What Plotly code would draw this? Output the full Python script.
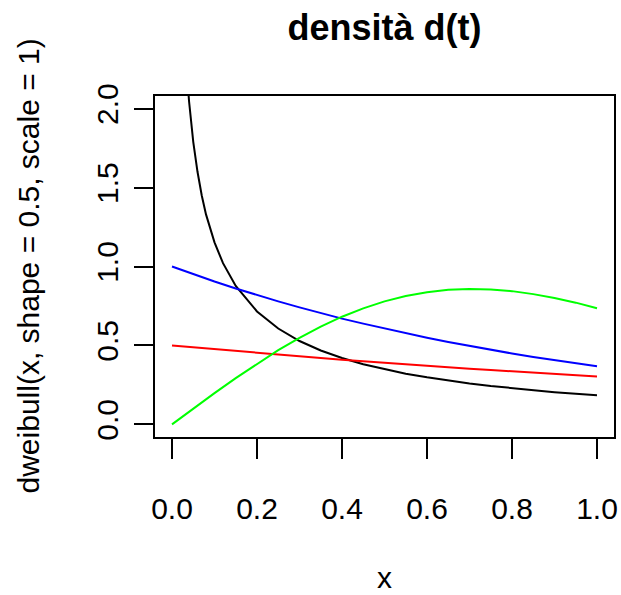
import plotly.graph_objects as go

# values (x grid and densities)
x = [0.0, 0.05, 0.1, 0.15, 0.2, 0.25, 0.3, 0.35, 0.4, 0.45, 0.5,
     0.55, 0.6, 0.65, 0.7, 0.75, 0.8, 0.85, 0.9, 0.95, 1.0]

# black curve needs a finer grid near 0, it runs off the top
x_black = [0.03, 0.04, 0.05, 0.06, 0.07, 0.08, 0.1, 0.12, 0.15, 0.2, 0.25, 0.3,
           0.35, 0.4, 0.45, 0.5, 0.55, 0.6, 0.65, 0.7, 0.75, 0.8, 0.85,
           0.9, 0.95, 1.0]
y_black = [2.43, 2.05, 1.79, 1.60, 1.45, 1.33, 1.153, 1.021, 0.877, 0.715, 0.607, 0.528,
           0.468, 0.420, 0.381, 0.349, 0.321, 0.298, 0.277, 0.259, 0.243, 0.229, 0.216,
           0.204, 0.194, 0.184]

y_blue = [1.0, 0.951, 0.905, 0.861, 0.819, 0.779, 0.741, 0.705, 0.670, 0.638, 0.607,
          0.577, 0.549, 0.522, 0.497, 0.472, 0.449, 0.427, 0.407, 0.387, 0.368]

y_red = [0.5, 0.488, 0.476, 0.464, 0.452, 0.441, 0.430, 0.420, 0.409, 0.399, 0.389,
         0.380, 0.370, 0.361, 0.352, 0.344, 0.335, 0.327, 0.319, 0.311, 0.303]

y_green = [0.0, 0.100, 0.198, 0.293, 0.384, 0.470, 0.548, 0.619, 0.682, 0.735, 0.779,
           0.813, 0.837, 0.852, 0.858, 0.855, 0.844, 0.825, 0.801, 0.771, 0.736]

x_ticks = [0.0, 0.2, 0.4, 0.6, 0.8, 1.0]
y_ticks = [0.0, 0.5, 1.0, 1.5, 2.0]

FONT = "Liberation Sans, Arial, sans-serif"

W, H = 621, 595
box_l, box_r, box_t, box_b = 155, 614, 96, 437

fig = go.Figure()
fig.add_trace(go.Scatter(x=x_black, y=y_black, mode="lines", line=dict(color="black", width=2)))
fig.add_trace(go.Scatter(x=x, y=y_blue, mode="lines", line=dict(color="#0000FF", width=2)))
fig.add_trace(go.Scatter(x=x, y=y_red, mode="lines", line=dict(color="#FF0000", width=2)))
fig.add_trace(go.Scatter(x=x, y=y_green, mode="lines", line=dict(color="#00FF00", width=2)))

fig.update_layout(
    width=W, height=H,
    margin=dict(l=box_l, r=W - box_r, t=box_t, b=H - box_b, autoexpand=False),
    paper_bgcolor="white", plot_bgcolor="white",
    showlegend=False,
    font=dict(family=FONT, size=30, color="black"),
    title=dict(text="<b>densità d(t)</b>", x=(box_l + box_r) / 2 / W, xanchor="center",
               y=1 - 27 / H, yanchor="middle", font=dict(size=36), automargin=False),
)

fig.update_xaxes(
    range=[-0.04, 1.04], tickvals=x_ticks, ticktext=[f"{v:.1f}" for v in x_ticks],
    ticks="outside", ticklen=20, tickwidth=2, tickcolor="black",
    showgrid=False, zeroline=False, showline=True, linecolor="black", linewidth=2,
    mirror=True, ticklabelstandoff=24, automargin=False,
)
fig.update_yaxes(
    range=[-0.08, 2.08], tickvals=y_ticks, ticktext=[f"{v:.1f}" for v in y_ticks],
    ticks="outside", ticklen=19, tickwidth=2, tickcolor="black", tickangle=-90,
    showgrid=False, zeroline=False, showline=True, linecolor="black", linewidth=2,
    mirror=True, ticklabelstandoff=4, automargin=False,
)

fig.add_annotation(text="x", xref="paper", yref="paper", x=0.5,
                   y=(box_b - 577) / (box_b - box_t),
                   showarrow=False, xanchor="center", yanchor="middle")
fig.add_annotation(text="dweibull(x, shape = 0.5, scale = 1)", xref="paper", yref="paper",
                   x=(28 - box_l) / (box_r - box_l), y=0.5, textangle=-90,
                   showarrow=False, xanchor="center", yanchor="middle")

# drop the default 8px page margin so the figure sits at the window corner
fig.write_html("out.html", config={"displayModeBar": False},
               post_script="document.body.style.margin = '0';")
